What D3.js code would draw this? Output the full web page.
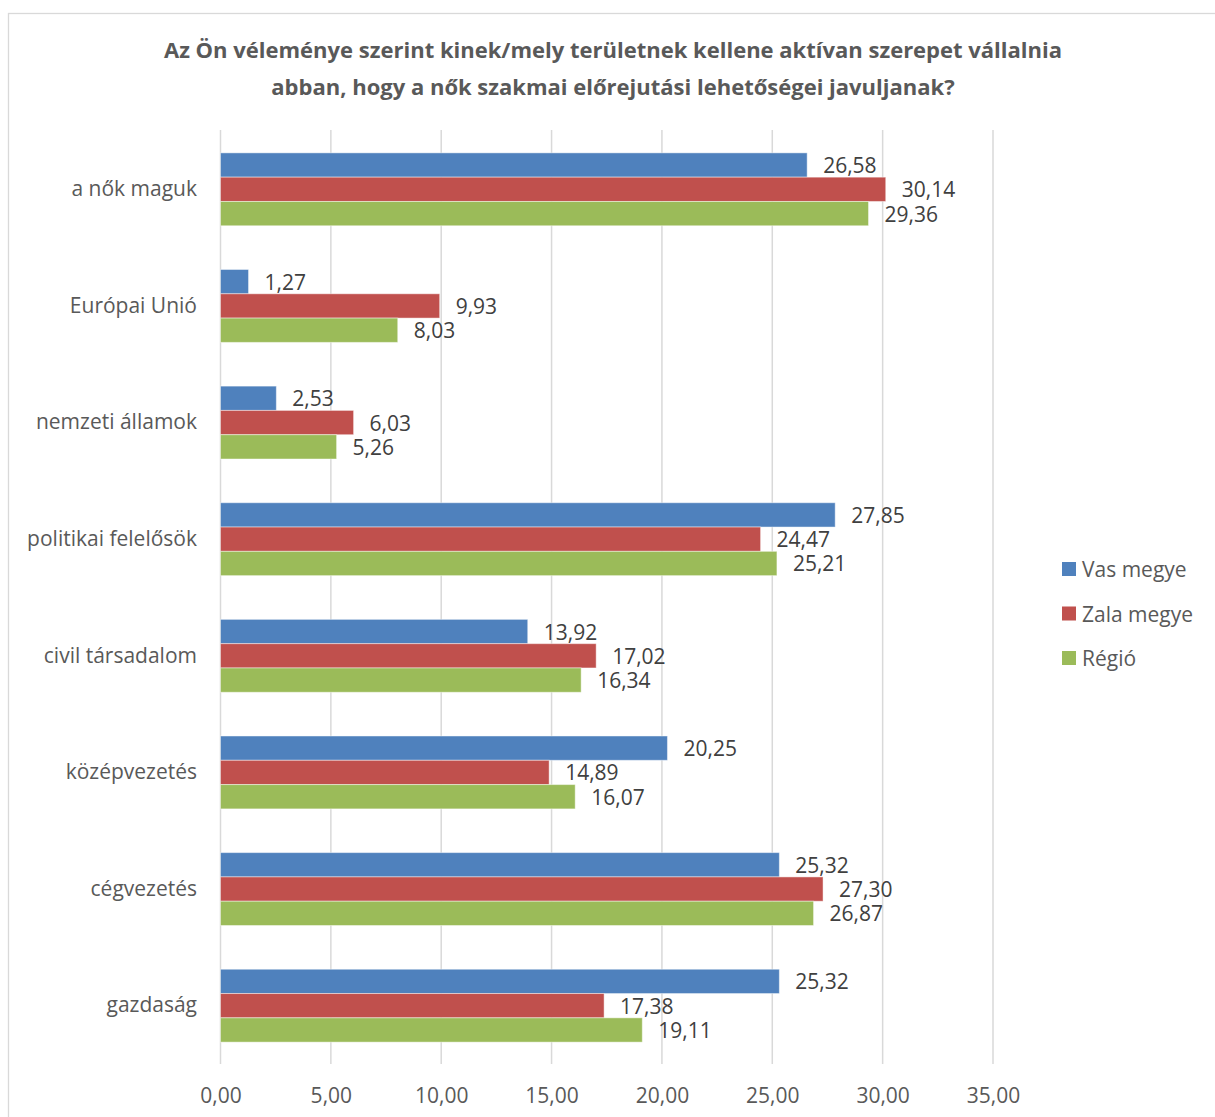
<!DOCTYPE html>
<html>
<head>
<meta charset="utf-8">
<script src="https://cdn.jsdelivr.net/npm/d3@7"></script>
<style>
  html, body { margin: 0; padding: 0; background: #fff; }
  svg { display: block; }
  text { font-family: "Open Sans", Lato, sans-serif; }
</style>
</head>
<body>
<svg id="chart" width="1215" height="1117"></svg>
<script>
const titleLines = [
  "Az Ön véleménye szerint kinek/mely területnek kellene aktívan szerepet vállalnia",
  "abban, hogy a nők szakmai előrejutási lehetőségei javuljanak?"
];
const categories = ["a nők maguk", "Európai Unió", "nemzeti államok", "politikai felelősök",
  "civil társadalom", "középvezetés", "cégvezetés", "gazdaság"];
const seriesNames = ["Vas megye", "Zala megye", "Régió"];
const vasValues   = [26.58, 1.27, 2.53, 27.85, 13.92, 20.25, 25.32, 25.32];
const zalaValues  = [30.14, 9.93, 6.03, 24.47, 17.02, 14.89, 27.30, 17.38];
const regioValues = [29.36, 8.03, 5.26, 25.21, 16.34, 16.07, 26.87, 19.11];
const tickValues = [0, 5, 10, 15, 20, 25, 30, 35];
const colors = ["#4F81BD", "#C0504D", "#9BBB59"];

const series = [vasValues, zalaValues, regioValues];
const svg = d3.select("#chart");
const FONT = "'Open Sans', Lato, sans-serif";

// outer chart border
svg.append("rect").attr("x", 8.5).attr("y", 13.5).attr("width", 1230).attr("height", 1130)
  .attr("fill", "#fff").attr("stroke", "#d9d9d9").attr("stroke-width", 1.3);

const plotTop = 131, plotBottom = 1064;
const x = d3.scaleLinear().domain([0, 35]).range([220.5, 993]);
const y = d3.scaleBand().domain(categories).range([plotTop, plotBottom]).paddingInner(0.375).paddingOuter(0.1875);
const ySub = d3.scaleBand().domain(d3.range(3)).range([0, y.bandwidth()]);

// title
svg.append("g").selectAll("text").data(titleLines).join("text")
  .attr("x", 613).attr("y", (d, i) => 57.5 + i * 37.5)
  .attr("text-anchor", "middle")
  .attr("font-size", 22).attr("font-weight", "bold").attr("fill", "#595959")
  .text(d => d);

// gridlines
svg.append("g").selectAll("line").data(tickValues).join("line")
  .attr("x1", d => x(d)).attr("x2", d => x(d))
  .attr("y1", plotTop - 1).attr("y2", plotBottom)
  .attr("stroke", "#d9d9d9").attr("stroke-width", 1.5);

// x axis labels
const xAxis = d3.axisBottom(x).tickValues(tickValues).tickSize(0).tickPadding(0)
  .tickFormat(d => d3.format(".2f")(d).replace(".", ","));
const gx = svg.append("g").attr("transform", `translate(0,${plotBottom + 23})`).call(xAxis);
gx.select(".domain").remove();
gx.selectAll("text").attr("font-size", 21).attr("fill", "#595959")
  .attr("font-family", FONT).attr("dy", "0.35em").attr("y", 9);

// category labels
const yAxis = d3.axisLeft(y).tickSize(0).tickPadding(0);
const gy = svg.append("g").attr("transform", "translate(197,0)").call(yAxis);
gy.select(".domain").remove();
gy.selectAll("text").attr("font-size", 21).attr("fill", "#595959")
  .attr("font-family", FONT);

// bars
const groups = svg.append("g").selectAll("g").data(categories).join("g")
  .attr("transform", d => `translate(0,${y(d)})`);
groups.each(function (cat, ci) {
  const g = d3.select(this);
  series.forEach((vals, si) => {
    g.append("rect")
      .attr("x", x(0)).attr("y", ySub(si))
      .attr("width", x(vals[ci]) - x(0)).attr("height", ySub.bandwidth())
      .attr("fill", colors[si]).attr("stroke", "#ffffff").attr("stroke-opacity", 0.45).attr("stroke-width", 1);
    g.append("text")
      .attr("x", x(vals[ci]) + 16).attr("y", ySub(si) + ySub.bandwidth() / 2)
      .attr("dominant-baseline", "central")
      .attr("font-size", 21).attr("fill", "#404040")
      .text(d3.format(".2f")(vals[ci]).replace(".", ","));
  });
});

// legend
const legend = svg.append("g").selectAll("g").data(seriesNames).join("g")
  .attr("transform", (d, i) => `translate(1062,${569 + i * 44.5})`);
legend.append("rect").attr("x", 0).attr("y", -7).attr("width", 14).attr("height", 14)
  .attr("fill", (d, i) => colors[i]);
legend.append("text").attr("x", 20).attr("y", 0).attr("dominant-baseline", "central")
  .attr("font-size", 21).attr("fill", "#595959").text(d => d);
</script>
</body>
</html>
